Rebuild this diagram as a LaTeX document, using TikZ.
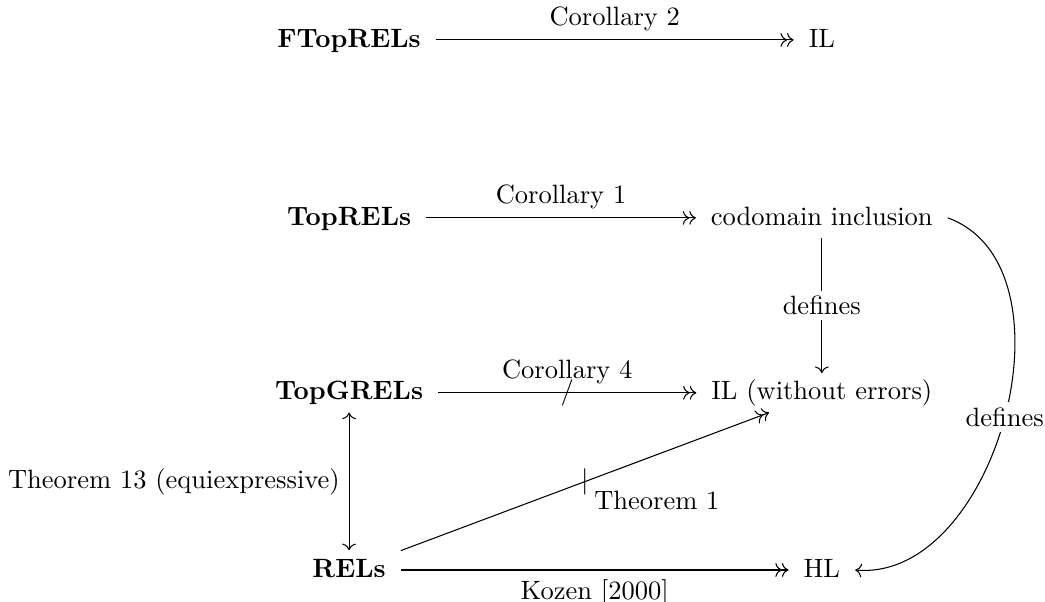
\documentclass[tikz,border=0pt]{standalone}
\usepackage{pgf, tikz}
\usetikzlibrary{arrows.meta}
\begin{document}
\begin{tikzpicture}[>={Computer Modern Rightarrow}, obj/.style={text height=1.5ex, text depth=.25ex, inner xsep=5.5pt, inner ysep=3.5pt}, desc/.style={fill=white, inner sep=2pt}]
\useasboundingbox (0,0) rectangle (13.86,7.98);
\node[obj] (ftop) at (4.63,7.45) {\textbf{FTopRELs}};
\node[obj] (il) at (10.90,7.45) {IL};
\node[obj] (top) at (4.63,5.09) {\textbf{TopRELs}};
\node[obj] (cod) at (10.90,5.09) {codomain inclusion};
\node[obj] (topg) at (4.63,2.77) {\textbf{TopGRELs}};
\node[obj] (ilw) at (10.90,2.77) {IL (without errors)};
\node[obj] (rels) at (4.63,0.42) {\textbf{RELs}};
\node[obj] (hl) at (10.90,0.42) {HL};
\draw[->>] (ftop) -- (il) node[midway,above]{Corollary 2};
\draw[->>] (top) -- (cod) node[midway,above]{Corollary 1};
\draw[->>] (topg) -- (ilw) node[midway]{$/$} node[midway,above]{Corollary 4};
\draw[->>] (rels) -- (hl) node[midway,below]{Kozen [2000]};
\draw[->>] (rels) -- (ilw) node[midway]{$|$} node[midway,anchor=north west]{Theorem 1};
\draw[<->] (topg) -- (rels) node[midway,left]{Theorem 13 (equiexpressive)};
\draw[->] (cod) -- (ilw) node[midway,desc]{defines};
\draw[->] (cod.east) to[out=-20, in=-5] node[midway,desc]{defines} (hl.east);
\end{tikzpicture}
\end{document}
